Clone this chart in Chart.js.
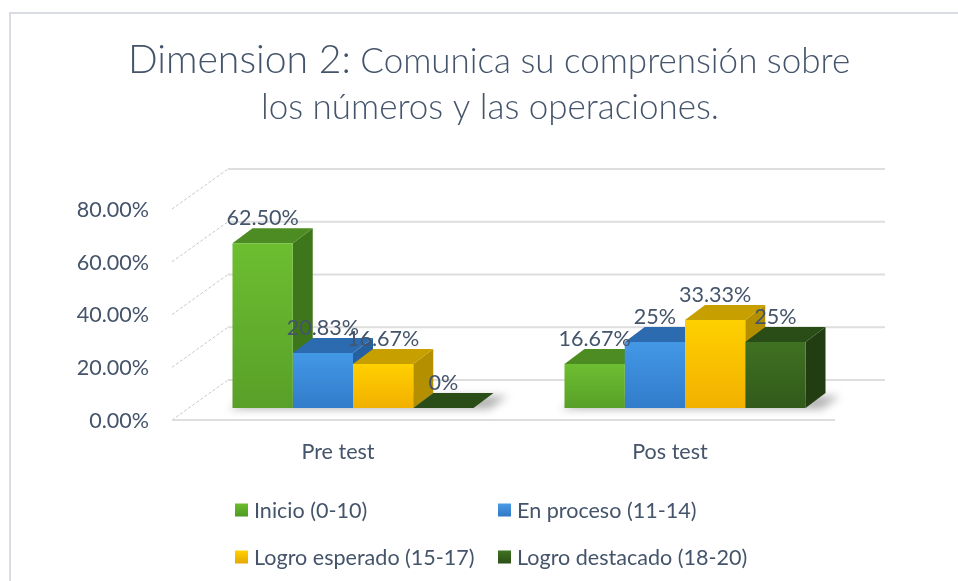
<!DOCTYPE html>
<html><head><meta charset="utf-8">
<script src="https://cdn.jsdelivr.net/npm/chart.js@4/dist/chart.umd.min.js"></script>
<style>html,body{margin:0;padding:0;background:#fff;}canvas{display:block;}</style>
</head><body>
<canvas id="c" width="958" height="581"></canvas>
<script>
// ---- data ----
const categories = ['Pre test', 'Pos test'];
const seriesNames = ['Inicio (0-10)', 'En proceso (11-14)', 'Logro esperado (15-17)', 'Logro destacado (18-20)'];
const inicio = [0.625, 0.1667];
const enProceso = [0.2083, 0.25];
const logroEsperado = [0.1667, 0.3333];
const logroDestacado = [0, 0.25];
const inicioLabels = ['62.50%', '16.67%'];
const enProcesoLabels = ['20.83%', '25%'];
const logroEsperadoLabels = ['16.67%', '33.33%'];
const logroDestacadoLabels = ['0%', '25%'];
const yTicks = [0, 0.2, 0.4, 0.6, 0.8];
const titleBig = 'Dimension 2:';
const titleRest = ' Comunica su comprensión sobre';
const titleLine2 = 'los números y las operaciones.';

// ---- styles ----
const TEXT = '#44546A';
const FONT = 'Lato, "Open Sans", sans-serif';
const palettes = [
  {light:'#6DBE31', dark:'#58A028', top:'#4D8C22', side:'#3E761B', legA:'#6CBD30', legB:'#4F9A22'},
  {light:'#4398E6', dark:'#317CCB', top:'#2D6BB0', side:'#2660A0', legA:'#4A9BE6', legB:'#2F78C4'},
  {light:'#FFD000', dark:'#F2B000', top:'#C7A000', side:'#B48F00', legA:'#FFD200', legB:'#E5A800'},
  {light:'#3F7122', dark:'#325A1A', top:'#2A4C16', side:'#213D11', legA:'#3F7322', legB:'#2B4F16'}
];
const seriesValues = [inicio, enProceso, logroEsperado, logroDestacado];
const seriesLabels = [inicioLabels, enProcesoLabels, logroEsperadoLabels, logroDestacadoLabels];

const mctx = document.createElement('canvas').getContext('2d');
function fit(text, target, weight) {
  mctx.font = (weight || 400) + ' 100px ' + FONT;
  return 100 * target / mctx.measureText(text).width;
}
const baseSize = (fit('80.00%', 71) + fit('Pre test', 73) + fit('Logro destacado (18-20)', 234) + fit('Inicio (0-10)', 114)) / 4;

const DX = 20, DY = -15;

function frontGradient(ctx, pal) {
  const chart = ctx.chart;
  const area = chart.chartArea;
  if (!area || ctx.type !== 'data') return pal.light;
  const y = chart.scales.y;
  const top = y.getPixelForValue(ctx.raw), bot = y.getPixelForValue(0);
  if (bot - top < 1) return pal.light;
  const g = chart.ctx.createLinearGradient(0, top, 0, bot);
  g.addColorStop(0, pal.light);
  g.addColorStop(1, pal.dark);
  return g;
}

const bgPlugin = {
  id: 'bg',
  beforeDraw(chart) {
    const c = chart.ctx;
    c.save();
    c.fillStyle = '#fff';
    c.fillRect(0, 0, chart.width, chart.height);
    c.strokeStyle = '#D9DDE3';
    c.lineWidth = 2;
    c.strokeRect(10, 13, chart.width + 20, chart.height + 20);
    c.restore();
  }
};

const wallsPlugin = {
  id: 'walls',
  beforeDatasetsDraw(chart) {
    const c = chart.ctx, y = chart.scales.y, a = chart.chartArea;
    const fx = a.left - 15, bx = a.left + 41, br = a.right + 34;
    c.save();
    yTicks.forEach(v => {
      const p = y.getPixelForValue(v);
      c.strokeStyle = '#C8C8C8'; c.lineWidth = 1; c.setLineDash([3, 2]);
      c.beginPath(); c.moveTo(fx, p + 12); c.lineTo(bx, p - 28); c.stroke();
      c.setLineDash([]);
      c.strokeStyle = '#DEDEDE'; c.lineWidth = 2;
      c.beginPath(); c.moveTo(bx, p - 28); c.lineTo(br, p - 28); c.stroke();
    });
    const p0 = y.getPixelForValue(0);
    c.strokeStyle = '#DEDEDE'; c.lineWidth = 2;
    c.beginPath(); c.moveTo(fx, p0 + 12); c.lineTo(a.right - 16, p0 + 12); c.stroke();

    const metas = chart.data.datasets.map((d, i) => chart.getDatasetMeta(i));
    categories.forEach((cat, i) => {
      const first = metas[0].data[i], last = metas[metas.length - 1].data[i];
      const x1 = first.x - first.width / 2, x2 = last.x + last.width / 2, b = last.base;
      c.save();
      c.filter = 'blur(4px)';
      c.fillStyle = 'rgba(0,0,0,0.30)';
      c.beginPath();
      c.moveTo(x1 - 4, b + 1); c.lineTo(x2 + 16, b + 1);
      c.lineTo(x2 + DX + 14, b + DY + 3); c.lineTo(x1 + DX, b + DY + 3);
      c.closePath(); c.fill();
      c.restore();
    });

    categories.forEach((cat, i) => {
      metas.forEach((m, d) => {
        const el = m.data[i], pal = palettes[d];
        const x1 = el.x - el.width / 2, x2 = el.x + el.width / 2, yt = el.y, yb = el.base;
        if (yb - yt > 0.5) {
          c.fillStyle = pal.side;
          c.beginPath();
          c.moveTo(x2, yt); c.lineTo(x2 + DX, yt + DY); c.lineTo(x2 + DX, yb + DY); c.lineTo(x2, yb);
          c.closePath(); c.fill();
        }
        c.fillStyle = pal.top;
        c.beginPath();
        c.moveTo(x1, yt); c.lineTo(x2, yt); c.lineTo(x2 + DX, yt + DY); c.lineTo(x1 + DX, yt + DY);
        c.closePath(); c.fill();
      });
    });
    c.restore();
  },
  afterDatasetsDraw(chart) {
    const c = chart.ctx;
    c.save();
    c.fillStyle = TEXT;
    c.font = '400 ' + baseSize.toFixed(2) + 'px ' + FONT;
    c.textAlign = 'center'; c.textBaseline = 'middle';
    chart.data.datasets.forEach((ds, d) => {
      const m = chart.getDatasetMeta(d);
      m.data.forEach((el, i) => {
        c.fillText(seriesLabels[d][i], el.x, el.y - 25);
      });
    });
    c.restore();
  }
};

const titleLegendPlugin = {
  id: 'titleLegend',
  afterDraw(chart) {
    const c = chart.ctx;
    c.save();
    c.fillStyle = TEXT;
    c.textBaseline = 'alphabetic';
    c.textAlign = 'left';
    const bigSize = fit(titleBig, 223, 300);
    const restSize = fit(titleRest.trim(), 488, 300);
    const l2Size = fit(titleLine2, 460, 300);
    const s2 = (restSize + l2Size) / 2;
    c.font = '300 ' + bigSize + 'px ' + FONT;
    const wBig = c.measureText(titleBig).width;
    c.font = '300 ' + s2 + 'px ' + FONT;
    const wRest = c.measureText(titleRest).width;
    let x = 489 - (wBig + wRest) / 2;
    c.font = '300 ' + bigSize + 'px ' + FONT;
    c.fillText(titleBig, x, 73);
    c.font = '300 ' + s2 + 'px ' + FONT;
    c.fillText(titleRest, x + wBig, 73);
    c.textAlign = 'center';
    c.fillText(titleLine2, 490, 119);

    c.textAlign = 'left';
    c.textBaseline = 'middle';
    c.font = '400 ' + baseSize.toFixed(2) + 'px ' + FONT;
    const cols = [235, 498], rows = [510, 557];
    seriesNames.forEach((name, i) => {
      const cx = cols[i % 2], cy = rows[Math.floor(i / 2)];
      const pal = palettes[i];
      const g = c.createLinearGradient(0, cy - 6.5, 0, cy + 6.5);
      g.addColorStop(0, pal.legA); g.addColorStop(1, pal.legB);
      c.fillStyle = g;
      c.fillRect(cx, cy - 6.5, 13, 13);
      c.fillStyle = TEXT;
      c.fillText(name, cx + 19, cy + 1);
    });
    c.restore();
  }
};

const datasets = seriesNames.map((name, d) => ({
  label: name,
  data: seriesValues[d],
  backgroundColor: (ctx) => frontGradient(ctx, palettes[d]),
  borderWidth: 0
}));

new Chart(document.getElementById('c'), {
  type: 'bar',
  data: { labels: categories, datasets },
  plugins: [bgPlugin, wallsPlugin, titleLegendPlugin],
  options: {
    responsive: false,
    animation: false,
    devicePixelRatio: 1,
    layout: { padding: { top: 197, left: 0, right: 107, bottom: 73 } },
    datasets: { bar: { categoryPercentage: 0.726, barPercentage: 1 } },
    plugins: { legend: { display: false }, title: { display: false }, tooltip: { enabled: false } },
    scales: {
      x: {
        grid: { display: false, drawTicks: false },
        border: { display: false },
        ticks: { labelOffset: -15, padding: 31, color: TEXT, font: { family: FONT, size: baseSize } },
        afterFit(s) { s.height = 100; }
      },
      y: {
        min: 0, max: 0.8,
        afterBuildTicks(s) { s.ticks = yTicks.map(v => ({ value: v })); },
        grid: { display: false, drawTicks: false },
        border: { display: false },
        ticks: { padding: 38, labelOffset: 13, color: TEXT, font: { family: FONT, size: baseSize },
                 callback: (v) => (v * 100).toFixed(2) + '%' },
        afterFit(s) { s.width = 187; }
      }
    }
  }
});
</script>
</body></html>
